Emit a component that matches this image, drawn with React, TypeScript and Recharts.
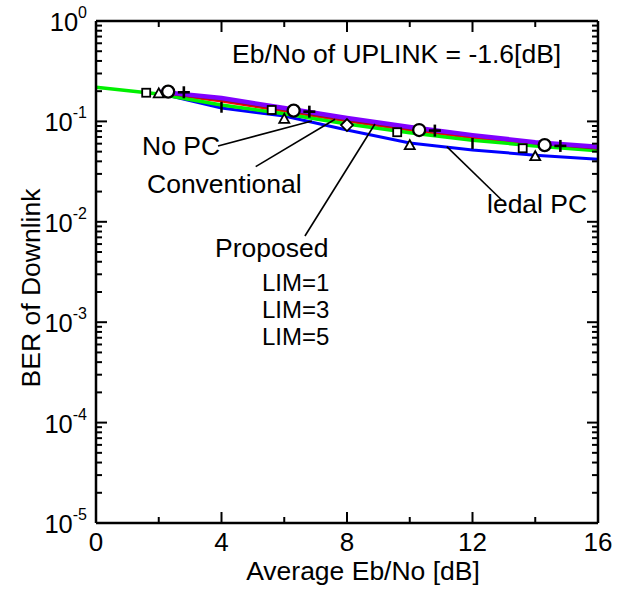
import React from "react";
import { ComposedChart, Line, Scatter, XAxis, YAxis, ReferenceLine } from "recharts";

const W = 623;
const H = 591;
const FONT = "'Liberation Sans', Arial, Helvetica, sans-serif";

// x grid of the curves (Average Eb/No [dB])
const X_PTS = [0, 2, 4, 6, 8, 10, 12, 14, 16];
// BER of downlink
const BER_GREEN = [0.219, 0.187, 0.146, 0.119, 0.094, 0.077, 0.065, 0.057, 0.051];
const BER_RED = [null, 0.192, 0.16, 0.127, 0.101, 0.082, 0.069, 0.06, 0.053];
const BER_DARKRED = [null, 0.194, 0.165, 0.131, 0.104, 0.085, 0.072, 0.061, 0.054];
const BER_PURPLE = [null, 0.198, 0.171, 0.136, 0.108, 0.088, 0.073, 0.062, 0.056];
const BER_BLUE = [null, 0.19, 0.136, 0.113, 0.082, 0.061, 0.052, 0.046, 0.042];

// simulated points (markers)
const SQ_X = [1.6, 5.6, 9.6, 13.6];
const SQ_Y = [0.193, 0.13, 0.078, 0.054];
const TRI_X = [2, 6, 10, 14];
const TRI_Y = [0.19, 0.106, 0.058, 0.045];
const DIA_X = [8];
const DIA_Y = [0.092];
const BAR_X = [4, 12];
const BAR_Y = [0.14, 0.061];
const CIR_X = [2.3, 6.3, 10.3, 14.3];
const CIR_Y = [0.198, 0.128, 0.082, 0.058];
const PLUS_X = [2.8, 6.8, 10.8, 14.8];
const PLUS_Y = [0.195, 0.125, 0.081, 0.057];

// leader lines for the annotations: [x1, y1, x2, y2]
const LEADERS = [
  [3.89, 0.0569, 6.88, 0.101],
  [5.09, 0.0354, 7.62, 0.105],
  [6.66, 0.00722, 8.89, 0.0942],
  [11.18, 0.056, 12.93, 0.0165],
];

const X_TICKS = [0, 2, 4, 6, 8, 10, 12, 14, 16];
const X_LABELED = [0, 4, 8, 12, 16];
const Y_DECADES = [-5, -4, -3, -2, -1, 0];

const Y_TICKS: number[] = [];
Y_DECADES.forEach((e) => {
  if (e === 0) {
    Y_TICKS.push(1);
    return;
  }
  for (let m = 1; m <= 9; m++) Y_TICKS.push(m * Math.pow(10, e));
});

const pts = (xs: number[], ys: (number | null)[]) =>
  xs.map((x, i) => ({ x, y: ys[i] })).filter((p) => p.y != null);

const isDecade = (v: number) => {
  const e = Math.round(Math.log10(v));
  return Math.abs(v / Math.pow(10, e) - 1) < 1e-6;
};

function BottomTick(props: any) {
  const { x, y, payload } = props;
  const major = X_LABELED.includes(payload.value);
  return (
    <g>
      <line x1={x} x2={x} y1={y} y2={y - (major ? 11 : 6)} stroke="#000" strokeWidth={2} />
      {major && (
        <text x={x} y={y + 28} textAnchor="middle" fontSize={26} fontFamily={FONT} fill="#000">
          {payload.value}
        </text>
      )}
    </g>
  );
}

function TopTick(props: any) {
  const { x, y, payload } = props;
  const major = X_LABELED.includes(payload.value);
  return <line x1={x} x2={x} y1={y} y2={y + (major ? 11 : 6)} stroke="#000" strokeWidth={2} />;
}

function LeftTick(props: any) {
  const { x, y, payload } = props;
  const v = payload.value;
  const major = isDecade(v);
  const e = Math.round(Math.log10(v));
  return (
    <g>
      <line x1={x} x2={x + (major ? 11 : 6)} y1={y} y2={y} stroke="#000" strokeWidth={2} />
      {major && (
        <text x={x - 9} y={y + 10} textAnchor="end" fontFamily={FONT} fill="#000">
          <tspan fontSize={25.5}>10</tspan>
          <tspan fontSize={16} dy={-13}>
            {e}
          </tspan>
        </text>
      )}
    </g>
  );
}

function RightTick(props: any) {
  const { x, y, payload } = props;
  const major = isDecade(payload.value);
  return <line x1={x} x2={x - (major ? 11 : 6)} y1={y} y2={y} stroke="#000" strokeWidth={2} />;
}

const Square = (p: any) => (
  <rect x={p.cx - 4} y={p.cy - 4} width={8} height={8} fill="#fff" stroke="#000" strokeWidth={1.8} />
);
const Triangle = (p: any) => (
  <polygon
    points={`${p.cx},${p.cy - 5} ${p.cx - 5},${p.cy + 4} ${p.cx + 5},${p.cy + 4}`}
    fill="#fff"
    stroke="#000"
    strokeWidth={1.8}
  />
);
const Diamond = (p: any) => (
  <polygon
    points={`${p.cx},${p.cy - 6} ${p.cx + 6},${p.cy} ${p.cx},${p.cy + 6} ${p.cx - 6},${p.cy}`}
    fill="#fff"
    stroke="#000"
    strokeWidth={1.8}
  />
);
const Circle = (p: any) => (
  <circle cx={p.cx} cy={p.cy} r={6} fill="#fff" stroke="#000" strokeWidth={2.3} />
);
const Plus = (p: any) => (
  <g stroke="#000" strokeWidth={2.6}>
    <line x1={p.cx - 6} x2={p.cx + 6} y1={p.cy} y2={p.cy} />
    <line x1={p.cx} x2={p.cx} y1={p.cy - 6} y2={p.cy + 6} />
  </g>
);
const Bar = (p: any) => (
  <line x1={p.cx} x2={p.cx} y1={p.cy - 5} y2={p.cy + 6} stroke="#000" strokeWidth={2.5} />
);

const axisLine = { stroke: "#000", strokeWidth: 2.5 };

const txt = {
  fontFamily: FONT,
  fontSize: 26.5,
  fill: "#000",
} as const;

const limTxt = { ...txt, fontSize: 24 };

export default function App() {
  return (
    <div style={{ position: "absolute", left: 0, top: 0, width: W, height: H, background: "#fff" }}>
      <ComposedChart width={W} height={H} margin={{ top: 0, right: 0, bottom: 0, left: 0 }}>
        <XAxis
          xAxisId="b"
          type="number"
          dataKey="x"
          domain={[0, 16]}
          ticks={X_TICKS}
          interval={0}
          tickSize={0}
          tickMargin={0}
          height={68}
          axisLine={axisLine}
          tickLine={false}
          tick={BottomTick}
          allowDataOverflow
        />
        <XAxis
          xAxisId="t"
          orientation="top"
          type="number"
          dataKey="x"
          domain={[0, 16]}
          ticks={X_TICKS}
          interval={0}
          tickSize={0}
          tickMargin={0}
          height={21}
          axisLine={axisLine}
          tickLine={false}
          tick={TopTick}
          allowDataOverflow
        />
        <YAxis
          yAxisId="l"
          type="number"
          dataKey="y"
          scale="log"
          domain={[1e-5, 1]}
          ticks={Y_TICKS}
          interval={0}
          tickSize={0}
          tickMargin={0}
          width={96}
          axisLine={axisLine}
          tickLine={false}
          tick={LeftTick}
          allowDataOverflow
        />
        <YAxis
          yAxisId="r"
          orientation="right"
          type="number"
          dataKey="y"
          scale="log"
          domain={[1e-5, 1]}
          ticks={Y_TICKS}
          interval={0}
          tickSize={0}
          tickMargin={0}
          width={25}
          axisLine={axisLine}
          tickLine={false}
          tick={RightTick}
          allowDataOverflow
        />

        <Scatter xAxisId="b" yAxisId="l" data={pts(SQ_X, SQ_Y)} dataKey="y" shape={Square} isAnimationActive={false} />

        <Line xAxisId="b" yAxisId="l" data={pts(X_PTS, BER_BLUE)} dataKey="y" type="linear" stroke="#0000ff" strokeWidth={3} dot={false} isAnimationActive={false} />
        <Line xAxisId="b" yAxisId="l" data={pts(X_PTS, BER_RED)} dataKey="y" type="linear" stroke="#ff0000" strokeWidth={3} dot={false} isAnimationActive={false} />
        <Line xAxisId="b" yAxisId="l" data={pts(X_PTS, BER_GREEN)} dataKey="y" type="linear" stroke="#00f000" strokeWidth={3.5} dot={false} isAnimationActive={false} />
        <Line xAxisId="b" yAxisId="l" data={pts(X_PTS, BER_DARKRED)} dataKey="y" type="linear" stroke="#8b1a1a" strokeWidth={3} dot={false} isAnimationActive={false} />
        <Line xAxisId="b" yAxisId="l" data={pts(X_PTS, BER_PURPLE)} dataKey="y" type="linear" stroke="#8000ff" strokeWidth={4.5} dot={false} isAnimationActive={false} />

        <Scatter xAxisId="b" yAxisId="l" data={pts(TRI_X, TRI_Y)} dataKey="y" shape={Triangle} isAnimationActive={false} />
        <Scatter xAxisId="b" yAxisId="l" data={pts(DIA_X, DIA_Y)} dataKey="y" shape={Diamond} isAnimationActive={false} />
        <Scatter xAxisId="b" yAxisId="l" data={pts(BAR_X, BAR_Y)} dataKey="y" shape={Bar} isAnimationActive={false} />
        <Scatter xAxisId="b" yAxisId="l" data={pts(CIR_X, CIR_Y)} dataKey="y" shape={Circle} isAnimationActive={false} />
        <Scatter xAxisId="b" yAxisId="l" data={pts(PLUS_X, PLUS_Y)} dataKey="y" shape={Plus} isAnimationActive={false} />

        {LEADERS.map((s, i) => (
          <ReferenceLine
            key={i}
            xAxisId="b"
            yAxisId="l"
            segment={[
              { x: s[0], y: s[1] },
              { x: s[2], y: s[3] },
            ]}
            stroke="#000"
            strokeWidth={1.6}
          />
        ))}
      </ComposedChart>

      <svg width={W} height={H} style={{ position: "absolute", left: 0, top: 0, pointerEvents: "none" }}>
        <text x={232} y={63} {...txt}>Eb/No of UPLINK = -1.6[dB]</text>
        <text x={142} y={155} {...txt}>No PC</text>
        <text x={147} y={193} {...txt}>Conventional</text>
        <text x={487} y={213} {...txt}>ledal PC</text>
        <text x={215} y={257} {...txt}>Proposed</text>
        <text x={262} y={291} {...limTxt}>LIM=1</text>
        <text x={262} y={318} {...limTxt}>LIM=3</text>
        <text x={262} y={345} {...limTxt}>LIM=5</text>
        <text x={363} y={580} textAnchor="middle" {...txt}>Average Eb/No [dB]</text>
        <text transform="translate(40,288) rotate(-90)" textAnchor="middle" {...txt}>BER of Downlink</text>
      </svg>
    </div>
  );
}
